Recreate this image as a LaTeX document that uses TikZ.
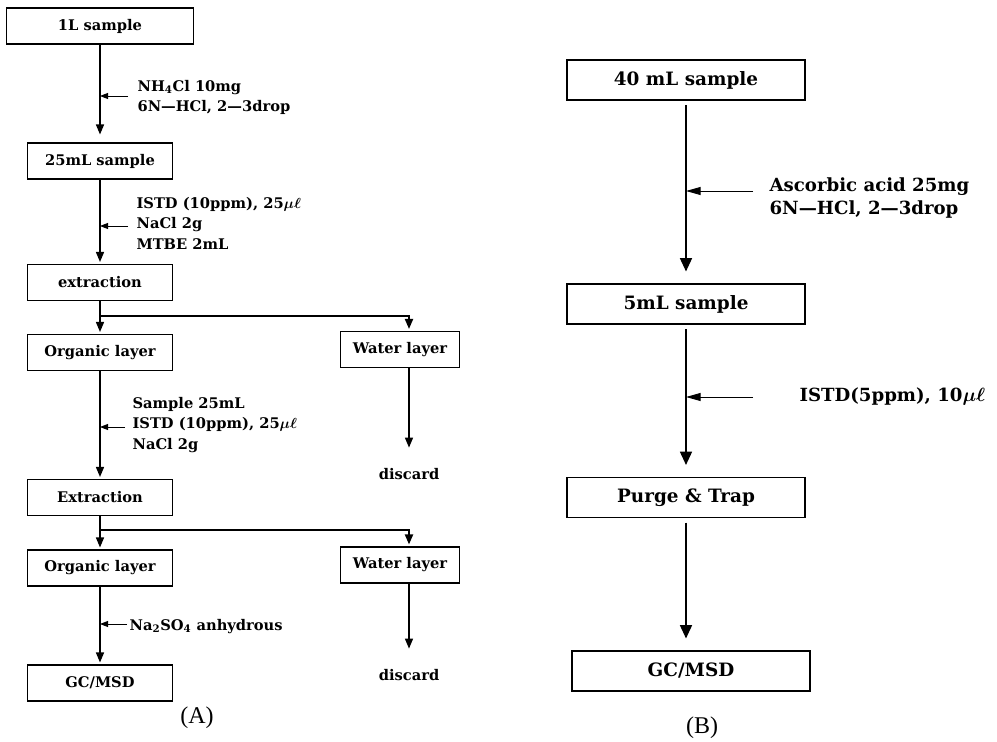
\documentclass[tikz,border=0pt]{standalone}
\usepackage{fontspec}
\setmainfont{DejaVu Serif}
\newfontfamily\capfont{Liberation Serif}
\usetikzlibrary{arrows.meta,positioning}

\tikzset{
    box/.style = {draw, line width=0.8pt, inner sep=0pt,
                  minimum width=108.75pt, minimum height=27pt,
                  font=\bfseries\boldmath\fontsize{11}{13}\selectfont},
    bigbox/.style = {box, minimum width=178.5pt, minimum height=30pt,
                     font=\bfseries\boldmath\fontsize{13.8}{16}\selectfont},
    note/.style = {anchor=west, inner xsep=1pt, inner ysep=2.5pt,
                   text height=7.5pt, text depth=2.5pt,
                   font=\bfseries\boldmath\fontsize{11}{13}\selectfont},
    bignote/.style = {note, inner ysep=2.4pt, text height=9.5pt, text depth=3pt,
                      font=\bfseries\boldmath\fontsize{13.6}{16}\selectfont},
    plain/.style = {font=\bfseries\fontsize{11}{13}\selectfont},
    flowa/.style = {line width=1.1pt, -{Triangle[length=7.5pt,width=6pt]}, shorten >=1.5pt},
    flowb/.style = {line width=1.2pt, -{Triangle[length=10pt,width=9pt]},
                    shorten <=3.5pt, shorten >=9pt},
    feeda/.style = {line width=0.7pt, -{Triangle[length=6pt,width=4.5pt]}},
    feedb/.style = {line width=0.7pt, -{Triangle[length=11pt,width=6pt]}},
    split/.style = {line width=1.4pt}
}

\begin{document}
\begin{tikzpicture}[x=0.75pt, y=-0.75pt]
    \useasboundingbox (0,0) rectangle (997,742);

    % (A)
    \node[box, minimum width=140pt] (s1) at (100,26) {1L sample};
    \node[box] (s2) at (100,161) {25mL sample};
    \node[box] (ext1) at (100,282.5) {extraction};
    \node[box] (org1) at (100,352.5) {Organic layer};
    \node[box, minimum width=89pt] (wat1) at (400,349.5) {Water layer};
    \node[plain] (dis1) at (409,474) {discard};
    \node[box] (ext2) at (100,497.5) {Extraction};
    \node[box] (org2) at (100,568) {Organic layer};
    \node[box, minimum width=89pt] (wat2) at (400,565) {Water layer};
    \node[plain] (dis2) at (409,675) {discard};
    \node[box] (gc1) at (100,683) {GC/MSD};
    \node[font=\capfont\fontsize{18}{20}\selectfont] (capA) at (197,718) {(A)};

    \node[note] (n1) at (136,88) {NH\textsubscript{4}Cl 10mg};
    \node[note, below=0pt of n1.south west, anchor=north west] (n2) {6N---HCl, 2---3drop};
    \node[note] (n3) at (135,205) {ISTD (10ppm), 25$\mu\ell$};
    \node[note, below=0pt of n3.south west, anchor=north west] (n4) {NaCl 2g};
    \node[note, below=0pt of n4.south west, anchor=north west] (n5) {MTBE 2mL};
    \node[note] (n6) at (131,405) {Sample 25mL};
    \node[note, below=0pt of n6.south west, anchor=north west] (n7) {ISTD (10ppm), 25$\mu\ell$};
    \node[note, below=0pt of n7.south west, anchor=north west] (n8) {NaCl 2g};
    \node[note] (n9) at (128,627) {Na\textsubscript{2}SO\textsubscript{4} anhydrous};

    \coordinate (in1) at (128,96);
    \coordinate (in2) at (128,226);
    \coordinate (in3) at (125,427);
    \coordinate (in4) at (127,624);
    \coordinate (sp1) at (100,316);
    \coordinate (sp2) at (100,530);

    \draw[flowa, shorten >=6pt] (s1) -- (s2);
    \draw[flowa] (s2) -- (ext1);
    \draw[flowa] (ext1) -- (org1);
    \draw[flowa, split] (sp1) -| (wat1.north -| dis1);
    \draw[flowa, shorten >=12pt] (wat1.south -| dis1) -- (dis1);
    \draw[flowa] (org1) -- (ext2);
    \draw[flowa] (ext2) -- (org2);
    \draw[flowa, split] (sp2) -| (wat2.north -| dis2);
    \draw[flowa, shorten >=12pt] (wat2.south -| dis2) -- (dis2);
    \draw[flowa] (org2) -- (gc1);
    \foreach \i in {1,...,4}
        \draw[feeda] (in\i) -- (in\i -| s2);

    % (B)
    \node[bigbox] (b1) at (686,80) {40 mL sample};
    \node[bigbox] (b2) at (686,304) {5mL sample};
    \node[bigbox] (b3) at (686,497.5) {Purge \& Trap};
    \node[bigbox] (b4) at (691,671) {GC/MSD};
    \node[font=\capfont\fontsize{18}{20}\selectfont] (capB) at (702,728) {(B)};

    \node[bignote] (m1) at (768,187) {Ascorbic acid 25mg};
    \node[bignote, below=0pt of m1.south west, anchor=north west] (m2) {6N---HCl, 2---3drop};
    \node[bignote] (m3) at (798,397) {ISTD(5ppm), 10$\mu\ell$};

    \coordinate (in5) at (753,191);
    \coordinate (in6) at (753,397);

    \draw[flowb] (b1) -- (b2);
    \draw[flowb] (b2) -- (b3);
    \draw[flowb] (b3) -- (b3 |- b4.north);
    \draw[feedb] (in5) -- (in5 -| b1);
    \draw[feedb] (in6) -- (in6 -| b1);
\end{tikzpicture}
\end{document}
